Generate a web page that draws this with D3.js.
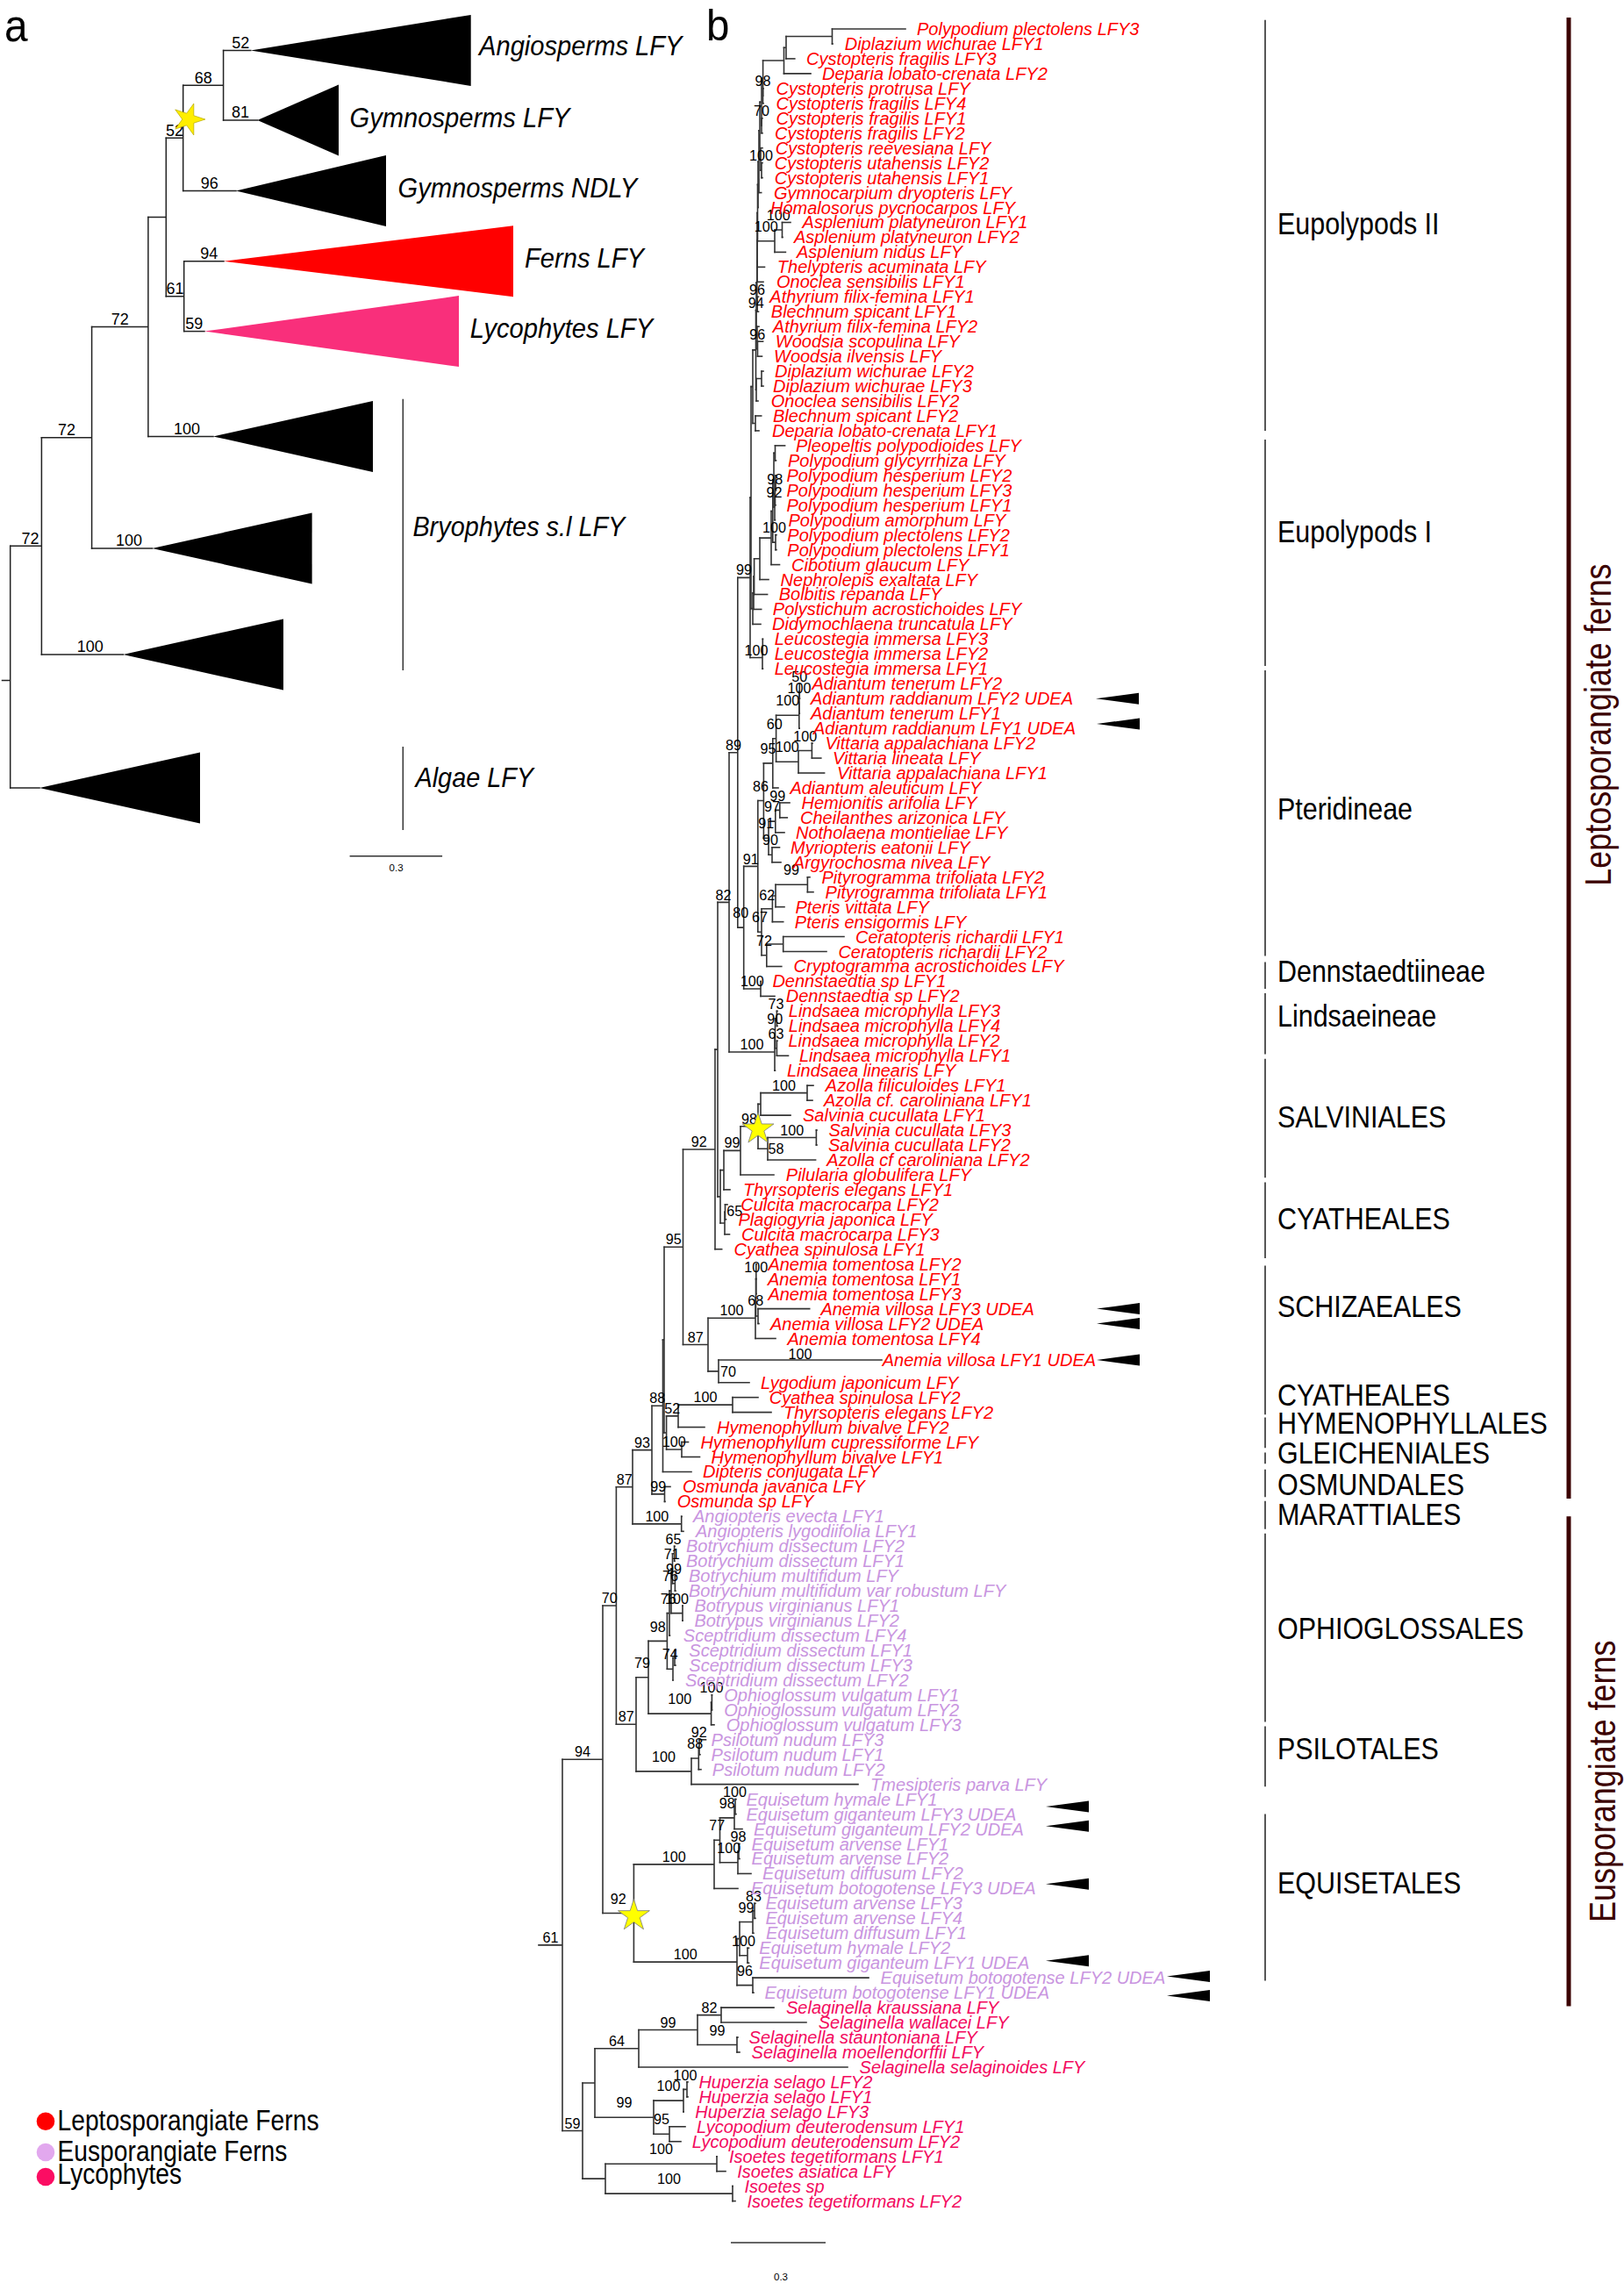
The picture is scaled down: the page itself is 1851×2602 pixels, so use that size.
<!DOCTYPE html>
<html><head><meta charset="utf-8"><title>LFY phylogeny</title>
<script src="https://cdn.jsdelivr.net/npm/d3@7"></script>
<style>html,body{margin:0;padding:0;background:#fff}svg{display:block}text{font-family:"Liberation Sans",Arial,sans-serif}</style>
</head><body><div id="c"></div>
<script>
// ---------- Panel b data ----------
const taxa = ["Polypodium plectolens LFY3","Diplazium wichurae LFY1","Cystopteris fragilis LFY3","Deparia lobato-crenata LFY2","Cystopteris protrusa LFY","Cystopteris fragilis LFY4","Cystopteris fragilis LFY1","Cystopteris fragilis LFY2","Cystopteris reevesiana LFY","Cystopteris utahensis LFY2","Cystopteris utahensis LFY1","Gymnocarpium dryopteris LFY","Homalosorus pycnocarpos LFY","Asplenium platyneuron LFY1","Asplenium platyneuron LFY2","Asplenium nidus LFY","Thelypteris acuminata LFY","Onoclea sensibilis LFY1","Athyrium filix-femina LFY1","Blechnum spicant LFY1","Athyrium filix-femina LFY2","Woodsia scopulina LFY","Woodsia ilvensis LFY","Diplazium wichurae LFY2","Diplazium wichurae LFY3","Onoclea sensibilis LFY2","Blechnum spicant LFY2","Deparia lobato-crenata LFY1",
"Pleopeltis polypodioides LFY","Polypodium glycyrrhiza LFY","Polypodium hesperium LFY2","Polypodium hesperium LFY3","Polypodium hesperium LFY1","Polypodium amorphum LFY","Polypodium plectolens LFY2","Polypodium plectolens LFY1","Cibotium glaucum LFY","Nephrolepis exaltata LFY","Bolbitis repanda LFY","Polystichum acrostichoides LFY","Didymochlaena truncatula LFY","Leucostegia immersa LFY3","Leucostegia immersa LFY2","Leucostegia immersa LFY1",
"Adiantum tenerum LFY2","Adiantum raddianum LFY2 UDEA","Adiantum tenerum LFY1","Adiantum raddianum LFY1 UDEA","Vittaria appalachiana LFY2","Vittaria lineata LFY","Vittaria appalachiana LFY1","Adiantum aleuticum LFY","Hemionitis arifolia LFY","Cheilanthes arizonica LFY","Notholaena montieliae LFY","Myriopteris eatonii LFY","Argyrochosma nivea LFY","Pityrogramma trifoliata LFY2","Pityrogramma trifoliata LFY1","Pteris vittata LFY","Pteris ensigormis LFY","Ceratopteris richardii LFY1","Ceratopteris richardii LFY2","Cryptogramma acrostichoides LFY","Dennstaedtia sp LFY1","Dennstaedtia sp LFY2","Lindsaea microphylla LFY3","Lindsaea microphylla LFY4","Lindsaea microphylla LFY2","Lindsaea microphylla LFY1","Lindsaea linearis LFY",
"Azolla filiculoides LFY1","Azolla cf. caroliniana LFY1","Salvinia cucullata LFY1","Salvinia cucullata LFY3","Salvinia cucullata LFY2","Azolla cf caroliniana LFY2","Pilularia globulifera LFY","Thyrsopteris elegans LFY1","Culcita macrocarpa LFY2","Plagiogyria japonica LFY","Culcita macrocarpa LFY3","Cyathea spinulosa LFY1","Anemia tomentosa LFY2","Anemia tomentosa LFY1","Anemia tomentosa LFY3","Anemia villosa LFY3 UDEA","Anemia villosa LFY2 UDEA","Anemia tomentosa LFY4","Anemia villosa LFY1 UDEA","Lygodium japonicum LFY","Cyathea spinulosa LFY2","Thyrsopteris elegans LFY2","Hymenophyllum bivalve LFY2","Hymenophyllum cupressiforme LFY","Hymenophyllum bivalve LFY1","Dipteris conjugata LFY","Osmunda javanica LFY","Osmunda sp LFY",
"Angiopteris evecta LFY1","Angiopteris lygodiifolia LFY1","Botrychium dissectum LFY2","Botrychium dissectum LFY1","Botrychium multifidum LFY","Botrychium multifidum var robustum LFY","Botrypus virginianus LFY1","Botrypus virginianus LFY2","Sceptridium dissectum LFY4","Sceptridium dissectum LFY1","Sceptridium dissectum LFY3","Sceptridium dissectum LFY2","Ophioglossum vulgatum LFY1","Ophioglossum vulgatum LFY2","Ophioglossum vulgatum LFY3","Psilotum nudum LFY3","Psilotum nudum LFY1","Psilotum nudum LFY2","Tmesipteris parva LFY","Equisetum hymale LFY1","Equisetum giganteum LFY3 UDEA","Equisetum giganteum LFY2 UDEA","Equisetum arvense LFY1","Equisetum arvense LFY2","Equisetum diffusum LFY2","Equisetum botogotense LFY3 UDEA","Equisetum arvense LFY3","Equisetum arvense LFY4","Equisetum diffusum LFY1","Equisetum hymale LFY2","Equisetum giganteum LFY1 UDEA","Equisetum botogotense LFY2 UDEA","Equisetum botogotense LFY1 UDEA",
"Selaginella kraussiana LFY","Selaginella wallacei LFY","Selaginella stauntoniana LFY","Selaginella moellendorffii LFY","Selaginella selaginoides LFY","Huperzia selago LFY2","Huperzia selago LFY1","Huperzia selago LFY3","Lycopodium deuterodensum LFY1","Lycopodium deuterodensum LFY2","Isoetes tegetiformans LFY1","Isoetes asiatica LFY","Isoetes sp","Isoetes tegetiformans LFY2"];
// root-to-tip depth of every taxon (unit: 0.3 subst./site = 108)
const tipDepth = [432,349,305.8,324,270,270,269,269,269,269,269,267.7,264,301,292,295.4,271.5,270,264.5,264.5,265,269.6,268.5,270,270,264,267.7,265,
294.6,284.5,284.5,284.5,284,283.5,285,285,288.5,276,274.6,267.7,267,269.5,269.5,269.5,
311.5,311.5,311.3,311.2,326,335.8,339.6,287,300,297.3,294,288.5,290,323,327,294,292.7,362,342,290.8,267.2,283,286,286,286,298.5,283.5,
327,326,301,331,331,329.6,282,232,229,227.5,231.5,222.7,262,262,262,322.7,265,284,405,254,264,279,203,184.5,197.5,188,164,158,
177,179,169,169,170,170,178,178,163.5,170,170,167,211.5,211.5,214,204.5,198,199,378,239,239,246,243,243,256,241,261,261,259,253.5,253.5,390,259,
282,319,241,243,366,184,184,179,181,176,217,227,235,238];
const labelDepth = [445,362.7,319,337,284.6,284.6,284.6,283,283.8,282.7,282.7,282,278,314.6,305,308,285.8,285,277.3,278.8,280.8,283.8,282,283,281,278.8,281,280,
307,298,296.5,296.5,296.5,298.5,297.3,297.3,302,289.6,287.7,280.8,280,282.7,282.7,282.7,
325.4,324,324,327,340.4,349,354,300.4,313.5,312,307,301,303.8,336.5,340.6,306.5,305.8,375,355.4,304.6,280.4,295.8,298.8,298.8,298.5,311,297,
340.8,339,315,344.6,344,342.3,295.8,247,244.2,241.5,245,236.5,275.4,275,275.4,335.4,278,297.5,405.7,267,276.7,293,217,198.4,210.6,201,178,171.8,
190,193,182,182,185,185,191.4,191.4,178.8,185.3,185.3,181,225.3,225.3,227.8,210.6,210.6,211.8,392,250.5,250.5,259,256.6,256.6,269,256,272.4,272.4,273,265.3,265.3,403.6,271.4,
296,332.7,253.6,256.6,379.6,196.4,196.4,192.3,193.9,188.8,231,240.3,248.5,251.5];
// tree: "(children)support:depth"; a trailing ^ marks a support value set higher above its branch
const T1 = `(((0,1):348.5,2):296,3):293.5`;
const A1 = `(${T1},(4,5)98^:269.5):269.6`;
const A2 = `(${A1},(6,7)70^:268):268`;
const A3 = `(${A2},(8,(9,10)100^:268):267):266`;
const A5 = `((${A3},11):265,12):264`;
const B2 = `((${A5},((13,14)100^:291.5,15)100^:283):263.5,16):263`;
const B5 = `(((${B2},17):263,(18,19)96^:263.2):262.8,(20,(21,22)96^:263.5):263)94:262`;
const eupolypodsII = `((${B5},((23,24):268,25):262):261.5,(26,27):261):258`;
const polypodium = `(((28,29):283.5,(((30,31):284,32)98^:283.5,33)92^:283):282,(34,35)100^:284):280.8`;
const eupolypodsI = `((((${polypodium},36):279,37):266,38):259.6,39):259`;
const N99 = `((${eupolypodsII},(${eupolypodsI},40):258):256,((41,42):269.3,43)100:269)99:255`;
const adiantum = `(((44,45)50^:311.3,46)100^:311,47)100^:310.8`;
const vittaria = `((48,49)100^:325.4,50)100^:310`;
const P1 = `((${adiantum},${vittaria})60^:284.6,51)95^:280.8`;
const P2 = `(((52,53)99^:288.8,54)97^:283.8,(55,56)90^:280)91^:276`;
const Q4 = `(((57,58):320.4,59)62:284,60):280.4`;
const Q5 = `(${Q4},((61,62):292.7,63)72^:273.8)67^:268`;
const pteridineae = `(${P1},${P2})86^:270.4`;
const N80 = `((${pteridineae},${Q5})91:263.8,(64,65)100:267)80^:247.7`;
const lindsaea = `(((66,67)73^:285.4,(68,69)63^:285.4)90^:283.5,70)100:283`;
const U2 = `((${N99},${N80})89:240.8,${lindsaea})82:231`;
const salv = `(((71,72)100:320,73):267,((74,75)100:330.4,76)58:275)98:264`;
const L1 = `((${salv},77)99:244,78):225`;
const L2 = `((79,80)65:226.5,81):226`;
const N92f = `((${U2},(${L1},${L2}):221):218,82)92:215`;
const anemia = `(((83,84,85)100:261.8,(86,87):264)68:261.5,88)100:261`;
const N95 = `(${N92f},(${anemia},(89,90)70:219)87:207)95:178.5`;
const hymeno = `(((91,92)100:235,93)52:173,(94,95)100:177):159.6`;
const N93 = `(((${N95},${hymeno}):157,96)88:155.5,(97,98)99:157.5)93:143`;
const N87a = `(${N93},(99,100)100:176.7)87:121`;
const botry = `((((101,102)65^:168.6,(103,104)99^:169.4)71^:166.5,(105,106)100^:178)76^:165,107)76^:163`;
const N79 = `((${botry},((108,109):169,110)74^:167)98^:160.4,((111,112)100^:211.4,113)100^:210.6)79^:139`;
const N87b = `(${N79},(((114,115)92^:197,116)88^:196.3,117)100^:188)87:125`;
const equiA = `(((118,119)100^:238,120)98^:237,((121,122)98^:242,123)100^:241)77^:220.5`;
const equiB = `((((125,126)83^:260,127)99^:258,(128,129)100^:252):243,(130,131)96^:258)100:240`;
const N92e = `((${equiA},124)100:214,${equiB})92^:122.4`;
const N94 = `((${N87a},${N87b})70:102.4,${N92e})94:87`;
const sel = `(((132,133)82:222,(134,135)99^:240)99:195,136)64:128`;
const lyc = `(((137,138)100^:183,139)100^:179,(140,141)95^:163)99^:145`;
const N59 = `((${sel},${lyc}):78,((142,143):217,(144,145)100^:235):90)59:64`;
const treeB = `(${N94},${N59})61:41`;
const rootStemB = 14;
const tipSupportB = {56:"99",89:"100",141:"100"};
const supportShiftB = {"57-59":[-8,8],"74-76":[15,9],"79-80":[11,8],"83-85":[0,-4.6],"83-87":[0,12],"tip89":[0,2],"89-90":[17,9],"91-96":[-4,0],"tip56":[17,17],"tip141":[-16,17]};
const starNodesB = ["71-76","118-131"];
// row breaks: the vertical ladder has wider gaps around Anemia villosa LFY1
const rowBreaks = [0,88,89,90,145];
// groups
const groupNames = ["Leptosporangiate Ferns","Eusporangiate Ferns","Lycophytes"];
const groupFirstRow = [0,99,132];
const groupLabelColor = ["#ff0000","#c995e0","#f30a5e"];
const groupDotColor = ["#ff0000","#e2a8ee","#fb0d63"];
// clades (in row units)
const cladeNames = ["Eupolypods II","Eupolypods I","Pteridineae","Dennstaedtiineae","Lindsaeineae","SALVINIALES","CYATHEALES","SCHIZAEALES","CYATHEALES","HYMENOPHYLLALES","GLEICHENIALES","OSMUNDALES","MARATTIALES","OPHIOGLOSSALES","PSILOTALES","EQUISETALES"];
const cladeLabelRow = [13.06,33.73,52.4,63.3,66.3,73.1,79.9,85.8,90.83,92.7,94.7,96.8,98.85,106.5,114.6,123.6];
const cladeBarFrom = [-0.6,27.6,43.1,62.7,64.8,69.2,77.5,83.1,92.35,94.7,95.84,97.96,100.15,113.1,119];
const cladeBarTo   = [27,42.8,62.3,64.5,68.9,77.2,82.6,92.15,94.4,95.46,97.7,99.85,112.8,117.15,130.2];
const divisionNames = ["Leptosporangiate ferns","Eusporangiate ferns"];
const divisionFrom = [-0.77,99];
const divisionTo = [97.8,131.9];
const divisionLabelRow = [46.76,116.8];
const arrowRow = [45,46.7,86,87,89,118.5,119.8,123.7,128.85,129.9,131.2];
const arrowDepth = [649,650,650,650,650,592,592,592,592,730,730];
const scaleBarLabel = "0.3";
const scaleBarUnits = 108;

// ---------- Panel a data ----------
const groupsA = ["Angiosperms LFY","Gymnosperms LFY","Gymnosperms NDLY","Ferns LFY","Lycophytes LFY","","","","Algae LFY"];
const treeA = `(((((((0,1)68:254.6,2)52:208.7,(3,4)61:209.7):189.3,5)72:168.9,6)72:104.6,7)72:47.4,8):11.7`;
const rootStemA = 2.5;
const apexA = [285.7,293.4,269,255,233,243,173.5,140.3,45];
const endA = [536.7,386,440,585,523,425,355.6,323,228];
const tipSupportA = {0:"52",1:"81",2:"96",3:"94",4:"59",5:"100",6:"100",7:"100"};
const supportShiftA = {"tip0":[4,0],"tip3":[6,0],"tip5":[7,0],"tip6":[8,0],"tip7":[9,0],"0-7":[5,0]};
const fillA = ["#000","#000","#000","#ff0000","#f92f7b","#000","#000","#000","#000"];

// ---------- helpers ----------
function parseTree(s){ let i=0;
  function num(){let j=i;while(i<s.length&&/[0-9.]/.test(s[i]))i++;return s.slice(j,i);}
  function node(){
    if(s[i]==="("){ i++; const kids=[node()]; while(s[i]===","){i++;kids.push(node());} i++;
      let sup="",raised=false; while(i<s.length&&/[0-9]/.test(s[i]))sup+=s[i++];
      if(s[i]==="^"){raised=true;i++;}
      let depth=0; if(s[i]===":"){i++;depth=+num();}
      return {children:kids,support:sup,raised,depth};
    }
    return {row:+num()};
  }
  return node();
}
const W=1851,H=2602;
const svg=d3.select("#c").append("svg").attr("width",W).attr("height",H).attr("viewBox",`0 0 ${W} ${H}`);
svg.append("rect").attr("width",W).attr("height",H).attr("fill","#fff");
function label(g,x,y,t,o={}){
  const sx=o.sx||1;
  return g.append("text").attr("transform",`translate(${x},${y}) rotate(${o.rot||0}) scale(${sx},1)`)
    .attr("font-size",o.size).attr("font-style",o.italic?"italic":"normal").attr("fill",o.fill||"#000")
    .attr("text-anchor",o.anchor||"start").text(t);
}
function layoutTree(str,rowY,tipX,stem){
  const h=d3.hierarchy(parseTree(str));
  h.eachAfter(n=>{
    if(!n.children){n.first=n.last=n.data.row;n.y=rowY(n.data.row);n.depthX=tipX(n.data.row);n.key="tip"+n.data.row;}
    else{const c=n.children;n.first=c[0].first;n.last=c[c.length-1].last;n.y=(c[0].y+c[c.length-1].y)/2;n.depthX=n.data.depth;n.key=n.first+"-"+n.last;}
  });
  h.each(n=>{n.parentX=n.parent?n.parent.depthX:stem;});
  return h;
}
function drawBranches(g,h,xs,sw,col){
  g.append("g").selectAll("path").data(h.descendants()).join("path")
    .attr("fill","none").attr("stroke",col).attr("stroke-width",sw).attr("stroke-linecap","square")
    .attr("d",n=>{ let d=`M${xs(n.parentX)},${n.y}H${xs(n.depthX)}`;
      if(n.children){const c=n.children;d+=`M${xs(n.depthX)},${c[0].y}V${c[c.length-1].y}`;} return d;});
}
function drawSupports(g,h,xs,tipSup,shift,size,sx){
  const items=h.descendants().map(n=>{
    const t=n.children?n.data.support:(tipSup[n.data.row]||"");
    return t?{n,t}:null;}).filter(Boolean);
  g.append("g").selectAll("text").data(items).join("text")
    .attr("font-size",size).attr("text-anchor","middle").attr("fill","#000")
    .attr("transform",d=>{const s=shift[d.n.key]||[0,0];
      const up=d.n.data.raised?17:9;
      const x=(xs(d.n.parentX)+xs(d.n.depthX))/2+s[0];
      const y=d.n.y-up+s[1]+size*0.36;
      return `translate(${x},${y}) scale(${sx},1)`;})
    .text(d=>d.t);
}
const gA=svg.append("g").attr("id","panel-a"), gB=svg.append("g").attr("id","panel-b");
const starPath=d3.symbol().type(d3.symbolStar).size(400)();

// ---------- Panel a ----------
const xA=d3.scaleLinear().domain([0,600]).range([0,600]);
const yA=d3.scaleLinear().domain([0,1,2,3,4,5,6,7,8]).range([57.4,137,217.5,297.8,377.6,497.4,625,746,898]);
const hA=layoutTree(treeA,yA,r=>apexA[r],rootStemA);
hA.y=775.5; // root stem sits a little below the midpoint in the original
drawBranches(gA,hA,xA,1.5,"#222");
gA.append("g").selectAll("path").data(groupsA.map((d,i)=>i)).join("path")
  .attr("fill",i=>fillA[i])
  .attr("d",i=>{const y=yA(i);return d3.line()([[xA(apexA[i]),y],[xA(endA[i]),y-40.5],[xA(endA[i]),y+40.5]])+"Z";});
drawSupports(gA,hA,xA,tipSupportA,supportShiftA,18,1);
const labelA=[[546,52],[398.5,134],[453.6,213.6],[598,294],[535.7,374]];
groupsA.slice(0,5).forEach((t,i)=>label(gA,labelA[i][0],labelA[i][1]+11,t,{size:31,italic:true,sx:.94}));
label(gA,470.4,611,"Bryophytes s.l LFY",{size:31,italic:true,sx:0.93});
label(gA,473.5,897,"Algae LFY",{size:31,italic:true,sx:0.93});
gA.selectAll("line.b").data([[454.7,764],[851,946]]).join("line").attr("class","b")
  .attr("x1",459.3).attr("x2",459.3).attr("y1",d=>d[0]).attr("y2",d=>d[1]).attr("stroke","#333").attr("stroke-width",1.5);
gA.append("path").attr("d",starPath).attr("fill","#ffee00").attr("stroke","#b5a800").attr("stroke-width",.7)
  .attr("transform",`translate(215,136) rotate(90)`);
gA.append("line").attr("x1",xA(398.6)).attr("x2",xA(398.6+105.5)).attr("y1",975.7).attr("y2",975.7).attr("stroke","#333").attr("stroke-width",1.5);
label(gA,451.6,993,scaleBarLabel,{size:11.5,anchor:"middle"});
label(gA,5,47,"a",{size:52,sx:.92});

// ---------- Panel b ----------
const xB=d3.scaleLinear().domain([0,1300]).range([600,1900]);
const yB=d3.scaleLinear().domain(rowBreaks).range([33,1525.5,1550,1575.7,2508.6]);
const hB=layoutTree(treeB,yB,r=>tipDepth[r],rootStemB);
drawBranches(gB,hB,xB,1.6,"#333");
drawSupports(gB,hB,xB,tipSupportB,supportShiftB,17,.95);
const groupOf=r=>d3.bisectRight(groupFirstRow,r)-1;
gB.append("g").selectAll("text").data(taxa).join("text")
  .attr("x",(d,i)=>xB(labelDepth[i])).attr("y",(d,i)=>yB(i)+7)
  .attr("font-size",20).attr("font-style","italic")
  .attr("fill",(d,i)=>groupLabelColor[groupOf(i)]).text(d=>d);
gB.append("g").selectAll("path").data(arrowRow).join("path").attr("fill","#000")
  .attr("d",(d,i)=>{const x=xB(arrowDepth[i]),y=yB(d);return d3.line()([[x,y],[x+49,y-6.5],[x+49,y+6.5]])+"Z";});
starNodesB.forEach(k=>{const n=hB.descendants().find(v=>v.key===k);
  gB.append("path").attr("d",starPath).attr("fill","#ffff00").attr("stroke","#777").attr("stroke-width",.8)
    .attr("transform",`translate(${xB(n.depthX)},${n.y+3})`);});
// clade bars and names
gB.append("g").selectAll("line").data(cladeBarFrom).join("line")
  .attr("x1",1442).attr("x2",1442).attr("y1",d=>yB(d)).attr("y2",(d,i)=>yB(cladeBarTo[i]))
  .attr("stroke","#444").attr("stroke-width",1.8);
cladeNames.forEach((t,i)=>label(gB,1456,yB(cladeLabelRow[i])+12.5,t,{size:35,sx:.87}));
// divisions
gB.append("g").selectAll("line").data(divisionFrom).join("line")
  .attr("x1",1788).attr("x2",1788).attr("y1",d=>yB(d)).attr("y2",(d,i)=>yB(divisionTo[i]))
  .attr("stroke","#3b0000").attr("stroke-width",5);
divisionNames.forEach((t,i)=>label(gB,[1836,1841][i],yB(divisionLabelRow[i]),t,{size:43,sx:.835,rot:-90,anchor:"middle",fill:"#3b0000"}));
// scale bar
gB.append("line").attr("x1",xB(233)).attr("x2",xB(233+scaleBarUnits)).attr("y1",2556).attr("y2",2556).attr("stroke","#333").attr("stroke-width",1.6);
label(gB,890,2599,scaleBarLabel,{size:11.5,anchor:"middle"});
label(gB,805,45.5,"b",{size:50,sx:.95});

// ---------- legend ----------
const legendY=[2417.7,2453,2481], legendBase=[2427.7,2462.7,2489.3];
const gL=svg.append("g").attr("id","legend");
gL.selectAll("circle").data(groupNames).join("circle").attr("cx",52).attr("cy",(d,i)=>legendY[i]).attr("r",10.3).attr("fill",(d,i)=>groupDotColor[i]);
groupNames.forEach((t,i)=>label(gL,65.5,legendBase[i],t,{size:34,sx:.83}));
</script></body></html>
